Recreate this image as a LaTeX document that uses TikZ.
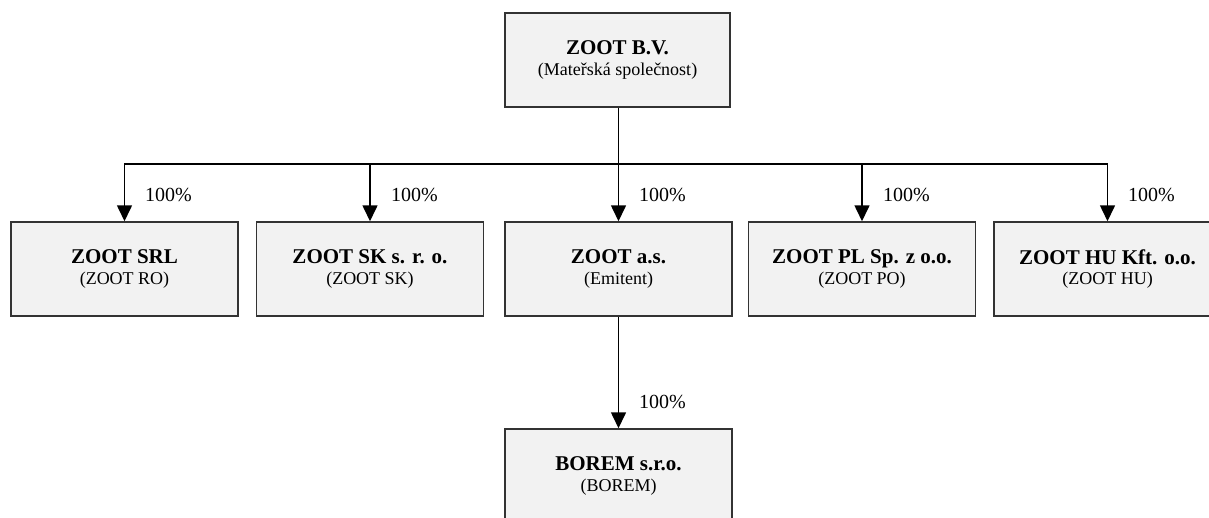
\documentclass[tikz,border=0pt]{standalone}
\usepackage{fontspec}
\setmainfont{Liberation Serif}
\usetikzlibrary{arrows.meta}
\definecolor{boxfill}{HTML}{F2F2F2}
\definecolor{boxline}{HTML}{333333}
\tikzset{
  orgbox/.style={draw=boxline, line width=1.5pt, fill=boxfill, rectangle,
    minimum width=227pt, minimum height=94pt, inner sep=0pt, align=center,
    font=\fontsize{18}{20.5}\selectfont},
  conn/.style={line width=1.6pt, draw=black},
  arr/.style={conn, -{Triangle[length=16pt,width=15pt]}},
  pct/.style={anchor=base west, inner sep=0pt, font=\fontsize{20}{22}\selectfont}
}
\newcommand{\orgtitle}[1]{{\bfseries\fontsize{21}{20.5}\selectfont #1}}
\begin{document}
\begin{tikzpicture}[x=1pt,y=-1pt]
\useasboundingbox (0,0) rectangle (1209,517);
\clip (0,0) rectangle (1209,517);
\node[orgbox, minimum width=225pt] (top) at (617.5,60) {\orgtitle{ZOOT B.V.}\\(Mateřská společnost)};
\node[orgbox] (c1) at (124.5,269) {\orgtitle{ZOOT SRL}\\(ZOOT RO)};
\node[orgbox] (c2) at (370,269) {\orgtitle{ZOOT SK s. r. o.}\\(ZOOT SK)};
\node[orgbox] (c3) at (618.5,269) {\orgtitle{ZOOT a.s.}\\(Emitent)};
\node[orgbox] (c4) at (862,269) {\orgtitle{ZOOT PL Sp. z o.o.}\\(ZOOT PO)};
\node[orgbox] (c5) at (1107.5,269) {\orgtitle{ZOOT HU Kft. o.o.}\\(ZOOT HU)};
\node[orgbox] (b) at (618.5,476) {\orgtitle{BOREM s.r.o.}\\(BOREM)};
\coordinate (bus) at (618.5,164);
\draw[conn] (top.south -| bus) -- (bus);
\draw[arr] (bus) -| (c1.north);
\draw[arr] (bus) -| (c2.north);
\draw[arr] (bus) -- (c3.north);
\draw[arr] (bus) -| (c4.north);
\draw[arr] (bus) -| (c5.north);
\draw[arr] (c3.south) -- (b.north);
\node[pct] (p1) at (145,201) {100\%};
\node[pct] (p2) at (391,201) {100\%};
\node[pct] (p3) at (639,201) {100\%};
\node[pct] (p4) at (883,201) {100\%};
\node[pct] (p5) at (1128,201) {100\%};
\node[pct] (p6) at (639,408) {100\%};
\end{tikzpicture}
\end{document}
